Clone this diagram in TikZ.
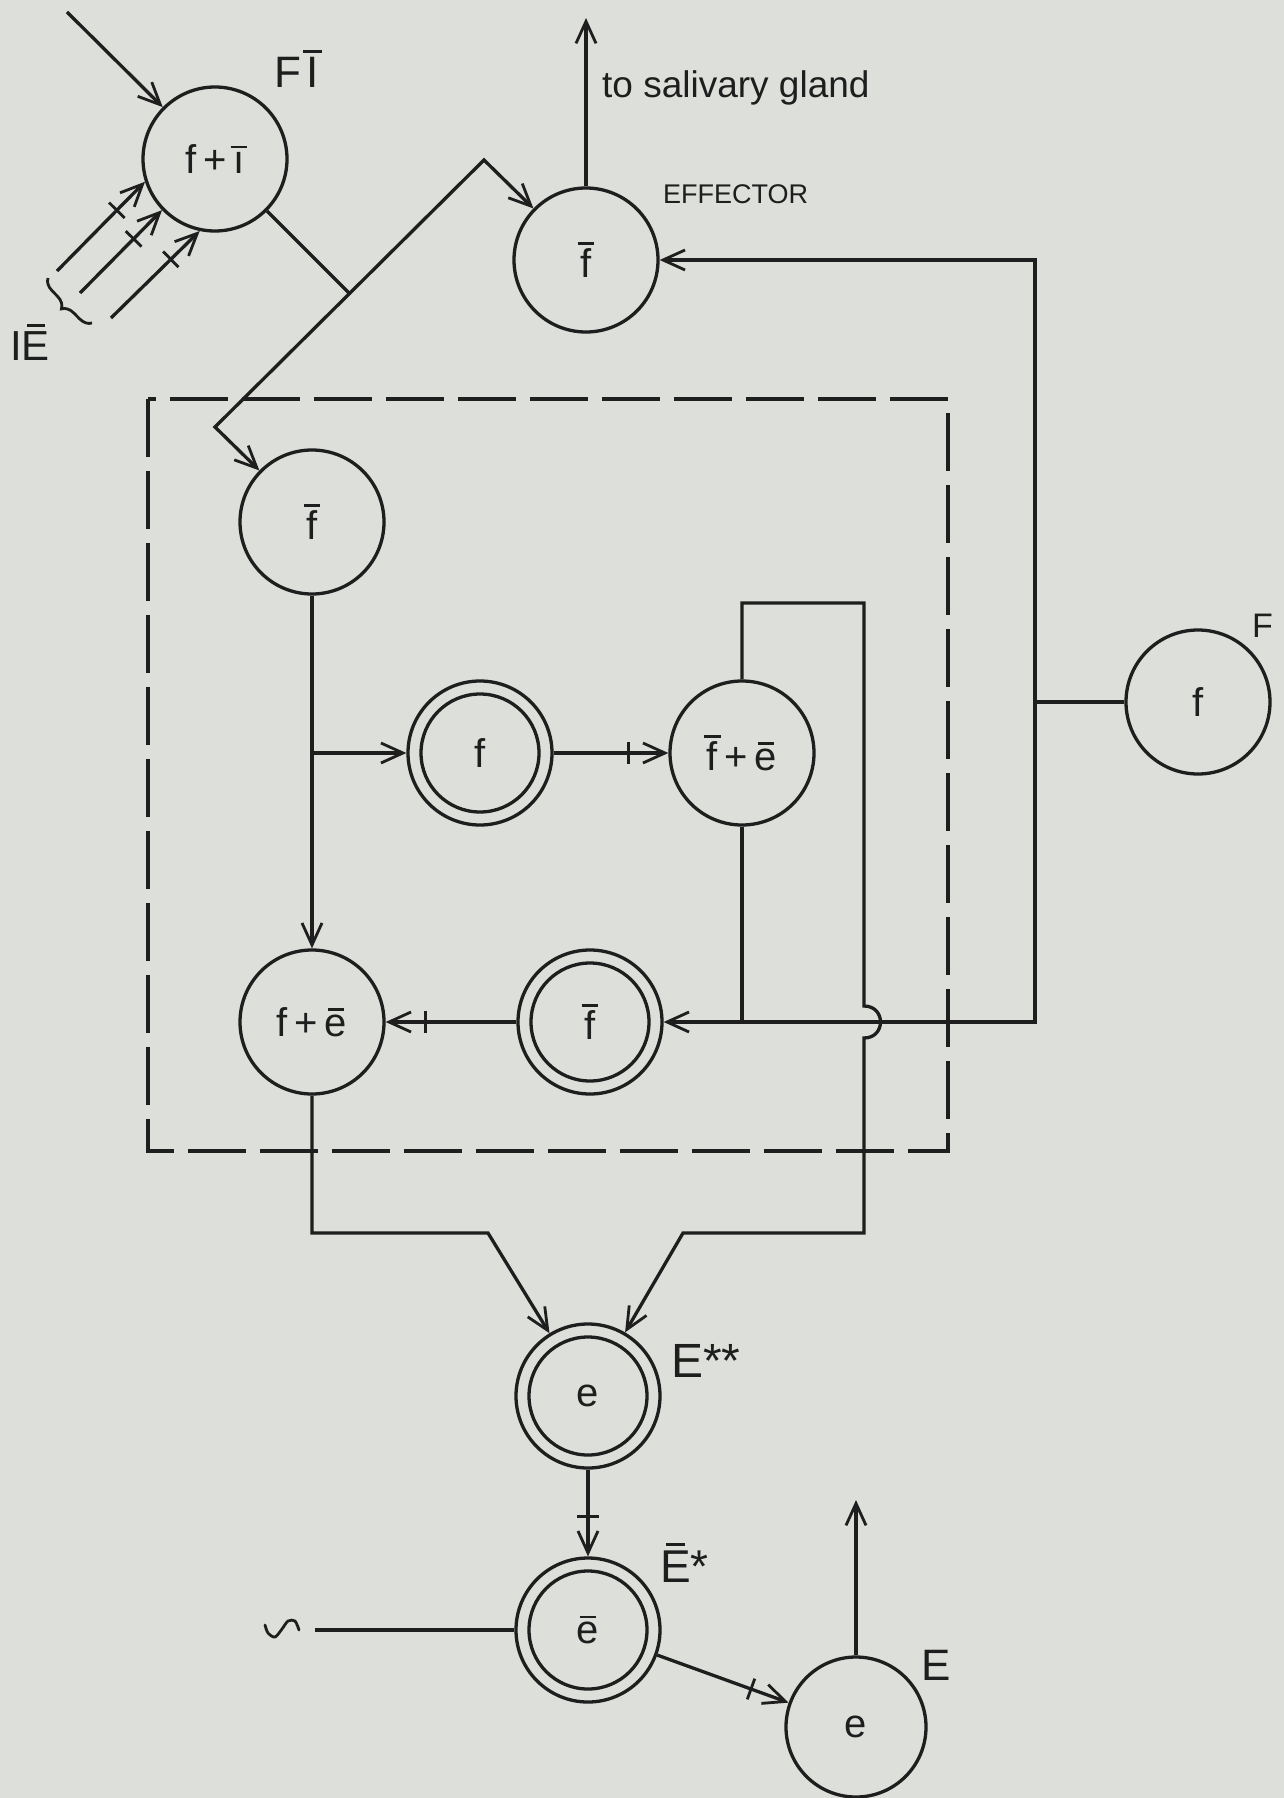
\documentclass[tikz,border=0pt]{standalone}
\usepackage{fontspec}
\setmainfont{Liberation Sans}
\usetikzlibrary{arrows.meta,decorations.markings,decorations.pathreplacing,calc}
\definecolor{ink}{RGB}{30,30,30}
\definecolor{paper}{RGB}{221,223,218}
\newcommand{\ovl}[1]{{\setbox0=\hbox{#1}\rlap{\hbox to\wd0{\hss\rule[\dimexpr\ht0+0.1em\relax]{0.42em}{0.07em}\hss}}\box0}}
\tikzset{
  nd/.style={circle, draw=ink, line width=3.3pt, minimum size=144pt, inner sep=0pt,
    font=\fontsize{40}{48}\selectfont, text=ink},
  dnd/.style={nd, path picture={\draw[ink,line width=3.3pt] (path picture bounding box.center) circle[radius=59pt];}},
  ln/.style={draw=ink, line width=3.3pt},
  arr/.style={ln, -{Straight Barb[length=22pt,width=20pt,line width=2.8pt]}},
  arrtwo/.style={ln, {Straight Barb[length=22pt,width=20pt,line width=2.8pt]}-{Straight Barb[length=22pt,width=20pt,line width=2.8pt]}},
  tk/.style={postaction={decorate, decoration={markings, mark=at position #1 with {\draw[ink,line width=2.8pt,arrows=-] (0pt,-11pt) -- (0pt,11pt);}}}},
  tk/.default=-40pt,
  lbl/.style={anchor=base west, inner sep=0pt, text=ink}
}
\begin{document}
\begin{tikzpicture}[x=1pt,y=-1pt]
\fill[paper] (0,0) rectangle (1284,1798);
\useasboundingbox (0,0) rectangle (1284,1798);

% dashed enclosure
\draw[ink, line width=3.3pt, dash pattern=on 58pt off 14pt] (148,399) rectangle (948,1151);

% nodes
\node[nd] (fi) at (215,159) {f\,+\,\ovl{\i}};
\node[nd] (eff) at (586,260) {\ovl{f}};
\node[nd] (fb1) at (312,522) {\ovl{f}};
\node[dnd] (fd) at (480,753) {f};
\node[nd] (fbe) at (742,753) {\ovl{f}\,+\,\ovl{e}};
\node[nd] (fe) at (312,1022) {f\,+\,\ovl{e}};
\node[dnd] (fbd) at (590,1022) {\ovl{f}};
\node[nd] (Fn) at (1198,702) {f};
\node[dnd] (ess) at (588,1396) {e};
\node[dnd] (esb) at (588,1630) {\ovl{e}};
\node[nd, minimum size=140pt] (Ee) at (856,1727) {e};

% labels
\node[lbl, font=\fontsize{44}{50}\selectfont] (lFI) at (274,88) {F\hspace{0.12em}\ovl{I}};
\node[lbl, font=\fontsize{37}{44}\selectfont] (lsal) at (602,98) {to salivary gland};
\node[lbl, font=\fontsize{27}{32}\selectfont] (leff) at (663,204) {EFFECTOR};
\node[lbl, font=\fontsize{42}{48}\selectfont] (lIE) at (10,360) {I\ovl{E}};
\node[lbl, font=\fontsize{34}{40}\selectfont] (lF) at (1252,637) {F};
\node[lbl, font=\fontsize{48}{56}\selectfont] (lEss) at (671,1377) {E**};
\node[lbl, font=\fontsize{46}{54}\selectfont] (lEsb) at (660,1582) {\ovl{E}*};
\node[lbl, font=\fontsize{44}{50}\selectfont] (lE) at (921,1680) {E};

% coordinates
\coordinate (in1) at (67,12);
\coordinate (ie1) at (57,271);
\coordinate (ie2) at (80,293);
\coordinate (ie3) at (111,318);
\coordinate (v1) at (215,427);
\coordinate (pk) at (484,160);
\coordinate (j1) at ($(v1)!0.5!(pk)$);
\coordinate (sal) at (586,18);
\coordinate (b1) at (312,753);
\coordinate (c1) at (742,603);
\coordinate (c2) at (864,603);
\coordinate (h1) at (864,1006);
\coordinate (h2) at (864,1038);
\coordinate (c3) at (864,1233);
\coordinate (c4) at (683,1233);
\coordinate (j2) at (742,1022);
\coordinate (rt) at (1035,260);
\coordinate (rb) at (1035,1022);
\coordinate (jF) at (1035,702);
\coordinate (d1) at (312,1233);
\coordinate (d2) at (488,1233);
\coordinate (sw) at (315,1630);
\coordinate (eup) at (856,1500);

% connectors
\draw[arr] (in1) -- (fi);
\draw[arr,tk] (ie1) -- (fi.198.7);
\draw[arr,tk] (ie2) -- (fi.224.4);
\draw[arr,tk] (ie3) -- (fi.258);
\draw[ln] (fi.-45) -- (j1);
\draw[arrtwo] (fb1) -- (v1) -- (pk) -- (eff);
\draw[arr] (eff.north) -- (sal);
\draw[arr] (fb1) -- (fe);
\draw[arr] (b1) -- (fd);
\draw[arr,tk] (fd) -- (fbe);
\draw[arr] (fbe.north) -- (c1) -- (c2) -- (h1) .. controls +(22,0) and +(22,0) .. (h2) -- (c3) -- (c4) -- (ess);
\draw[ln] (fbe.south) -- (j2);
\draw[arrtwo] (fbd) -- (rb) -- (rt) -- (eff);
\draw[ln] (Fn.west) -- (jF);
\draw[arr,tk] (fbd) -- (fe);
\draw[arr] (fe.south) -- (d1) -- (d2) -- (ess);
\draw[arr,tk] (ess) -- (esb);
\draw[ln] (sw) -- (esb.west);
\draw[arr,tk] (esb) -- (Ee);
\draw[arr] (Ee.north) -- (eup);

% brace for the IE inputs
\draw[ink, line width=2.8pt, decorate, decoration={brace, amplitude=12pt}] (92,323) -- (48,278);

% sinusoidal symbol
\draw[ink, line width=2.8pt, line cap=round] plot[smooth] coordinates {(265,1625) (268,1633) (275,1637) (282,1629) (288,1621) (295,1621) (299,1630)};
\end{tikzpicture}
\end{document}
